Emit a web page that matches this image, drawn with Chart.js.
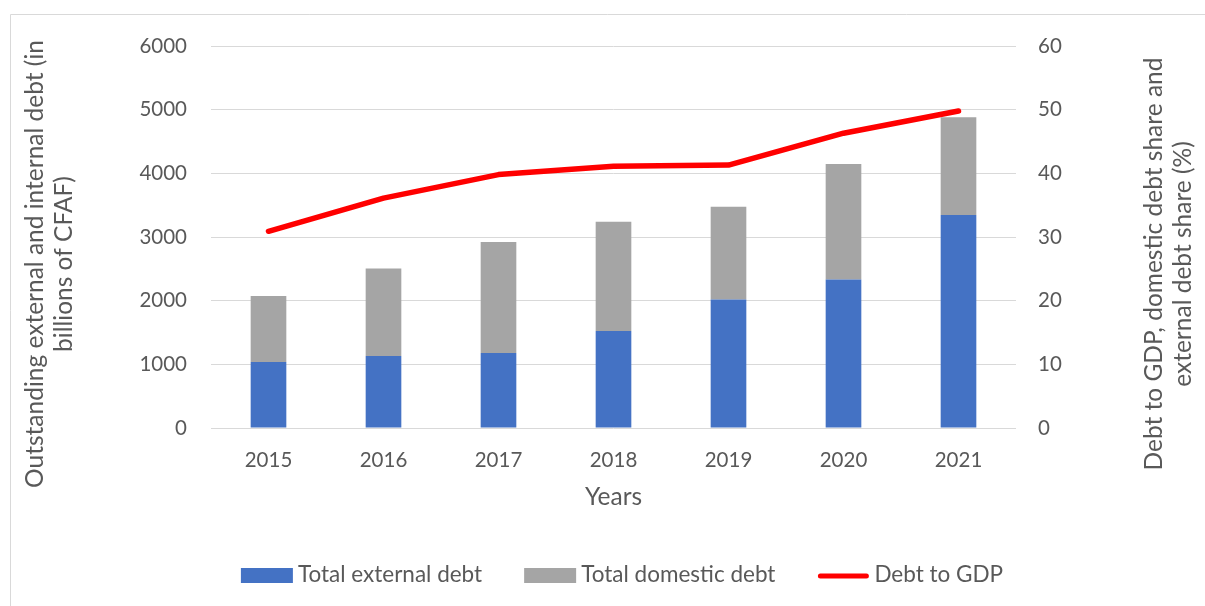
<!DOCTYPE html>
<html>
<head>
<meta charset="utf-8">
<script src="https://cdn.jsdelivr.net/npm/chart.js@4.4.1/dist/chart.umd.min.js"></script>
<style>
  html, body { margin: 0; padding: 0; background: #ffffff; }
  #wrap { width: 1205px; height: 606px; }
</style>
</head>
<body>
<div id="wrap"><canvas id="debtChart" width="1205" height="606"></canvas></div>
<script>
// Outstanding debt (billions of CFAF) and debt-to-GDP ratio (%), 2015-2021
const years = ['2015', '2016', '2017', '2018', '2019', '2020', '2021'];
const externalDebt = [1038, 1132, 1179, 1525, 2019, 2333, 3344];
const domesticDebt = [1037, 1374, 1741, 1714, 1456, 1813, 1536];
const debtToGdp = [30.9, 36.1, 39.8, 41.1, 41.3, 46.3, 49.8];

const seriesNames = ['Total external debt', 'Total domestic debt', 'Debt to GDP'];
const leftTitle = ['Outstanding external and internal debt (in', 'billions of CFAF)'];
const rightTitle = ['Debt to GDP, domestic debt share and', 'external debt share (%)'];
const xTitle = 'Years';

const FONT = 'Lato, "Open Sans", sans-serif';
const TEXT = '#595959';
const GRID = '#d9d9d9';

// Frame, rotated axis titles, x title and the legend row
const decorations = {
  id: 'decorations',
  afterDraw(chart) {
    const ctx = chart.ctx;
    const area = chart.chartArea;
    ctx.save();

    // outer frame (top and left edges are inside the canvas)
    ctx.strokeStyle = GRID;
    ctx.lineWidth = 1;
    ctx.beginPath();
    ctx.moveTo(10.5, 606);
    ctx.lineTo(10.5, 14.5);
    ctx.lineTo(1205, 14.5);
    ctx.stroke();

    ctx.fillStyle = TEXT;
    ctx.font = '24.5px ' + FONT;
    ctx.textAlign = 'center';
    ctx.textBaseline = 'middle';

    // left title
    const titleMidY = 264;
    [35, 64].forEach((x, i) => {
      ctx.save();
      ctx.translate(x, titleMidY);
      ctx.rotate(-Math.PI / 2);
      ctx.fillText(leftTitle[i], 0, 0);
      ctx.restore();
    });
    // right title
    [1154, 1183].forEach((x, i) => {
      ctx.save();
      ctx.translate(x, titleMidY);
      ctx.rotate(-Math.PI / 2);
      ctx.fillText(rightTitle[i], 0, 0);
      ctx.restore();
    });

    // x title
    ctx.fillText(xTitle, (area.left + area.right) / 2, 497);

    // legend, in series order
    ctx.font = '22.5px ' + FONT;
    const ds = seriesNames.map(n => chart.data.datasets.find(d => d.label === n));
    const boxW = 52, gapText = 5, gapItem = 42;
    const widths = ds.map(d => boxW + gapText + ctx.measureText(d.label).width);
    const total = widths.reduce((a, b) => a + b, 0) + gapItem * (ds.length - 1);
    let x = 622 - total / 2;
    const ly = 575;
    ctx.textAlign = 'left';
    ds.forEach((d, i) => {
      if (d.type === 'line') {
        ctx.strokeStyle = d.borderColor;
        ctx.lineWidth = 5;
        ctx.lineCap = 'round';
        ctx.beginPath();
        ctx.moveTo(x + 3, ly + 1);
        ctx.lineTo(x + boxW - 3, ly + 1);
        ctx.stroke();
      } else {
        ctx.fillStyle = d.backgroundColor;
        ctx.fillRect(x, ly - 7, boxW, 15);
      }
      ctx.fillStyle = TEXT;
      ctx.fillText(d.label, x + boxW + gapText, ly);
      x += widths[i] + gapItem;
    });

    ctx.restore();
  }
};

const plainNumber = v => String(v);

new Chart(document.getElementById('debtChart'), {
  data: {
    labels: years,
    datasets: [
      {
        type: 'line',
        label: seriesNames[2],
        data: debtToGdp,
        yAxisID: 'y1',
        borderColor: '#ff0000',
        backgroundColor: '#ff0000',
        borderWidth: 5.5,
        borderCapStyle: 'round',
        borderJoinStyle: 'round',
        pointRadius: 0,
        tension: 0,
        order: 0
      },
      {
        type: 'bar',
        label: seriesNames[0],
        data: externalDebt,
        yAxisID: 'y',
        backgroundColor: '#4472c4',
        categoryPercentage: 0.31,
        barPercentage: 1,
        order: 1
      },
      {
        type: 'bar',
        label: seriesNames[1],
        data: domesticDebt,
        yAxisID: 'y',
        backgroundColor: '#a5a5a5',
        categoryPercentage: 0.31,
        barPercentage: 1,
        order: 1
      }
    ]
  },
  options: {
    responsive: false,
    animation: false,
    layout: { padding: { top: 46, left: 0, right: 0, bottom: 0 } },
    plugins: {
      legend: { display: false },
      tooltip: { enabled: false }
    },
    scales: {
      x: {
        stacked: true,
        offset: true,
        grid: { display: false, drawTicks: false },
        border: { display: false },
        ticks: { color: TEXT, font: { family: FONT, size: 20.5 }, padding: 20, maxRotation: 0 },
        afterFit(scale) { scale.height = 178; }
      },
      y: {
        position: 'left',
        stacked: true,
        min: 0,
        max: 6000,
        grid: { color: GRID, lineWidth: 1, drawTicks: false },
        border: { display: false },
        ticks: { stepSize: 1000, callback: plainNumber, color: TEXT, font: { family: FONT, size: 20.5 }, padding: 24 },
        afterFit(scale) { scale.width = 211; }
      },
      y1: {
        position: 'right',
        min: 0,
        max: 60,
        grid: { display: false, drawTicks: false },
        border: { display: false },
        ticks: { stepSize: 10, callback: plainNumber, color: TEXT, font: { family: FONT, size: 20.5 }, padding: 22 },
        afterFit(scale) { scale.width = 189; }
      }
    }
  },
  plugins: [decorations]
});
</script>
</body>
</html>
